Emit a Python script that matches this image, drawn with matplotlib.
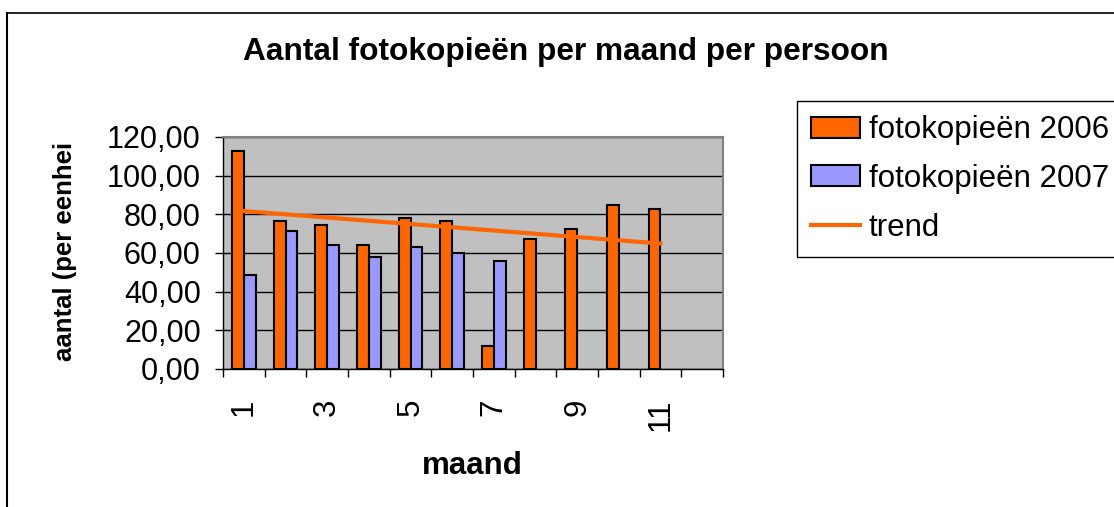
import numpy as np
import matplotlib
matplotlib.use("Agg")
import matplotlib.pyplot as plt
from matplotlib.lines import Line2D
from matplotlib.ticker import FixedLocator, FuncFormatter

plt.rcParams["font.family"] = ["Liberation Sans", "DejaVu Sans"]

# data (nan = no bar)
months = [1, 2, 3, 4, 5, 6, 7, 8, 9, 10, 11, 12]
copies_2006 = [112.6, 76.4, 74.3, 64.0, 78.3, 76.4, 12.1, 67.1, 72.3, 84.7, 82.6, np.nan]
copies_2007 = [48.5, 71.2, 64.0, 57.9, 63.0, 60.0, 55.7, np.nan, np.nan, np.nan, np.nan, np.nan]
trend_months = [1, 11]
trend_values = [81.7, 64.9]
shown_labels = [1, 3, 5, 7, 9, 11]

W, H = 1114, 507
fig = plt.figure(figsize=(W / 100, H / 100), dpi=100)
ax = fig.add_axes([223 / W, 1 - 369 / H, 500 / W, 232 / H])
ax.set_facecolor("#C0C0C0")

x = np.array(months)
bw = 1 / 3.5
b1 = ax.bar(x - bw / 2, copies_2006, bw, color="#FF6600", edgecolor="black",
            linewidth=1.5, zorder=3, label="fotokopieën 2006")
b2 = ax.bar(x + bw / 2, copies_2007, bw, color="#9999FF", edgecolor="black",
            linewidth=1.5, zorder=3, label="fotokopieën 2007")
tr, = ax.plot(trend_months, trend_values, color="#FF6600", linewidth=3,
              zorder=4, label="trend")

ax.set_xlim(0.5, 12.5)
ax.set_ylim(0, 120)
ax.set_yticks(range(0, 121, 20))
ax.yaxis.set_major_formatter(FuncFormatter(lambda v, p: f"{v:.2f}".replace(".", ",")))
ax.yaxis.grid(True, color="black", linewidth=1, zorder=1)
ax.set_axisbelow(True)

# ticks on category boundaries, labels on odd months
ax.xaxis.set_major_locator(FixedLocator(np.arange(0.5, 12.6, 1)))
ax.xaxis.set_major_formatter(FuncFormatter(lambda v, p: ""))
ax.xaxis.set_minor_locator(FixedLocator(shown_labels))
ax.xaxis.set_minor_formatter(FuncFormatter(lambda v, p: f"{int(round(v))}"))
ax.tick_params(axis="x", which="major", direction="out", length=6, width=1)
ax.tick_params(axis="x", which="minor", length=0, pad=21, labelsize=22.5,
               labelrotation=90)
ax.tick_params(axis="y", direction="out", length=6, width=1, labelsize=22, pad=10)

for s in ["left", "bottom"]:
    ax.spines[s].set_color("black")
    ax.spines[s].set_linewidth(1)
for s in ["top", "right"]:
    ax.spines[s].set_color("#808080")
    ax.spines[s].set_linewidth(1.5)

fig.text(566 / W, 1 - 52 / H, "Aantal fotokopieën per maand per persoon",
         ha="center", va="center", fontsize=22.8, fontweight="bold")
fig.text(472 / W, 1 - 466 / H, "maand", ha="center", va="center",
         fontsize=22.5, fontweight="bold")
fig.text(65 / W, 1 - 251 / H, "aantal (per eenhei", ha="center", va="center",
         rotation=90, fontsize=18.5, fontweight="bold")

leg = fig.legend([b1, b2, tr], ["fotokopieën 2006", "fotokopieën 2007", "trend"],
                 loc="upper left", bbox_to_anchor=(797 / W, 1 - 101 / H),
                 fontsize=22.5, frameon=True, fancybox=False, framealpha=1,
                 edgecolor="black", handlelength=1.58, handleheight=0.65,
                 handletextpad=0.26, labelspacing=0.6, borderpad=0.45,
                 borderaxespad=0)
leg.get_frame().set_linewidth(1)

# outer chart border (right and bottom edges fall outside the image)
fig.add_artist(Line2D([7 / W, 1.01], [1 - 13 / H, 1 - 13 / H],
                      transform=fig.transFigure, color="black", linewidth=1.2))
fig.add_artist(Line2D([7 / W, 7 / W], [1 - 13 / H, -0.01],
                      transform=fig.transFigure, color="black", linewidth=1.5))

fig.savefig("out.png", dpi=100)
